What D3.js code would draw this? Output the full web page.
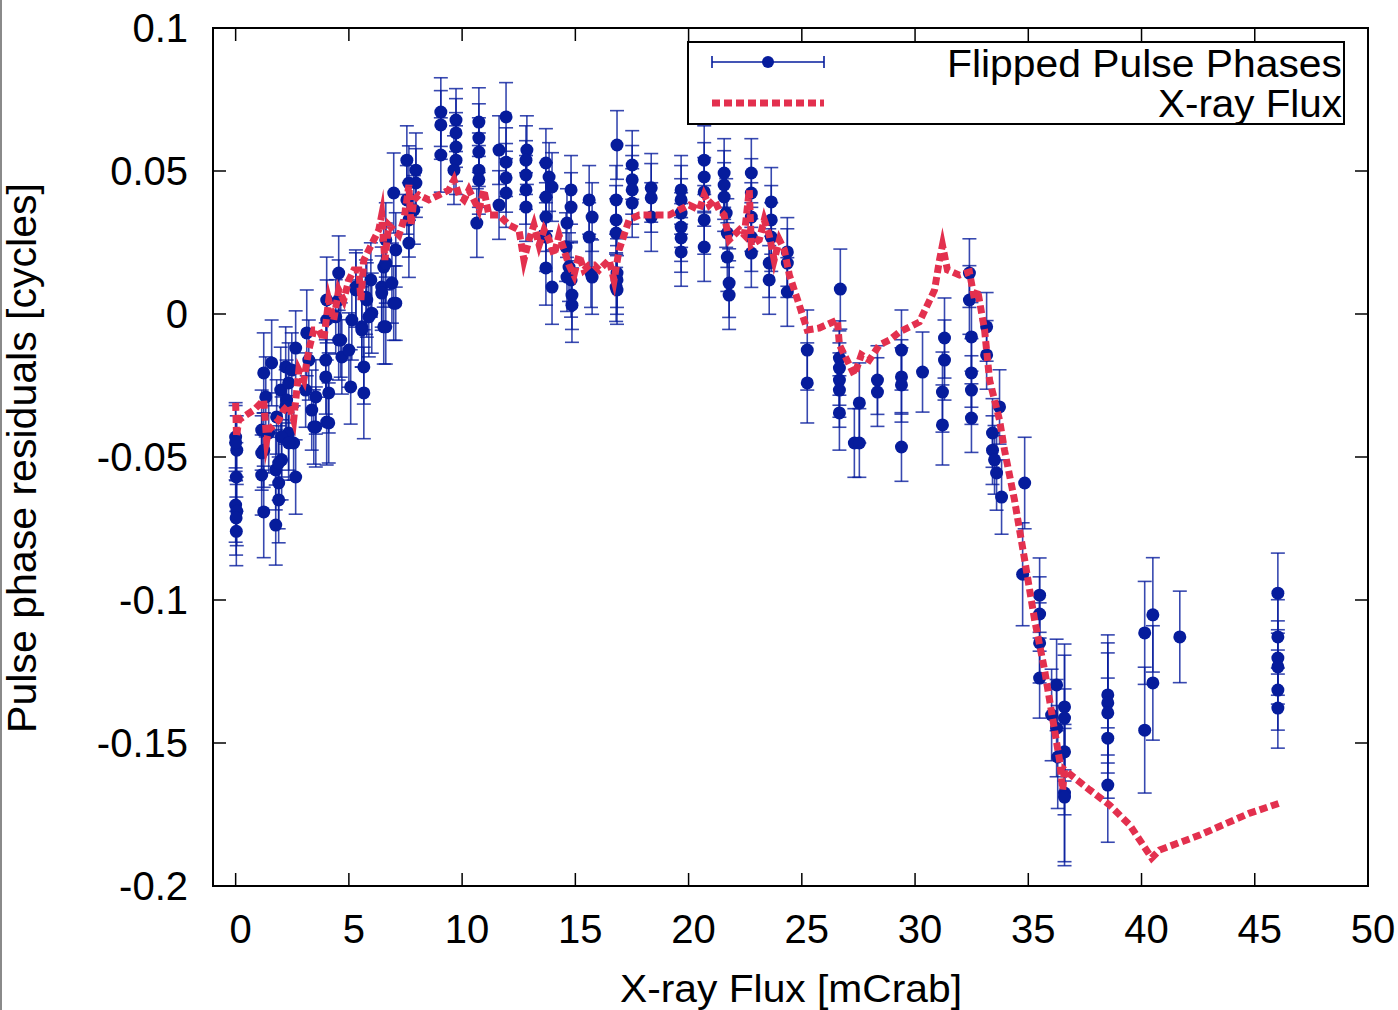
<!DOCTYPE html>
<html>
<head>
<meta charset="utf-8">
<script src="https://cdn.jsdelivr.net/npm/d3@7"></script>
<style>
  body { margin: 0; background: #fff; }
  svg { display: block; font-family: "Liberation Sans", Arial, sans-serif; }
</style>
</head>
<body>
<svg id="canvas" width="1398" height="1010"></svg>
<script>
// tick values
let xTicks = [0, 5, 10, 15, 20, 25, 30, 35, 40, 45, 50]
let yTicks = [0.1, 0.05, 0, -0.05, -0.1, -0.15, -0.2]
let yTickLabels = ['0.1', '0.05', '0', '-0.05', '-0.1', '-0.15', '-0.2']

// flipped pulse phases: [flux mCrab, residual cycles, error]
let pulsePhases = [
  [0.0, -0.043, 0.012], [0.05, -0.0476, 0.012], [0.0, -0.045, 0.013], [0.03, -0.057, 0.012],
  [0.0, -0.0668, 0.013], [0.05, -0.069, 0.012], [0.02, -0.0713, 0.013], [0.03, -0.076, 0.012],
  [1.24, -0.0206, 0.014], [1.59, -0.0171, 0.015], [1.33, -0.029, 0.014], [1.24, -0.0476, 0.013],
  [1.15, -0.0563, 0.014], [1.24, -0.0692, 0.016], [1.77, -0.0738, 0.014], [1.90, -0.065, 0.015],
  [2.21, -0.0185, 0.014], [2.65, -0.0119, 0.013], [2.65, -0.057, 0.013], [2.34, -0.0416, 0.013],
  [2.03, -0.051, 0.014], [1.81, -0.036, 0.013], [1.46, -0.0416, 0.014], [1.99, -0.0266, 0.015],
  [2.25, -0.0301, 0.014], [1.90, -0.0591, 0.016], [2.56, -0.0451, 0.013], [3.14, -0.0066, 0.015],
  [3.23, -0.0161, 0.014], [3.09, -0.0266, 0.013], [3.36, -0.0336, 0.014], [3.45, -0.0395, 0.013],
  [4.02, 0.0049, 0.015], [4.02, -0.0021, 0.014], [3.98, -0.0161, 0.013], [4.11, -0.0276, 0.014],
  [4.02, -0.0378, 0.015], [4.55, 0.0143, 0.013], [4.55, 0.0049, 0.014], [4.64, -0.0091, 0.013],
  [4.69, -0.015, 0.013], [5.08, -0.0255, 0.013], [5.13, -0.0021, 0.014], [5.31, 0.0084, 0.013],
  [5.57, -0.0045, 0.014], [5.66, -0.0185, 0.013], [5.66, -0.0276, 0.016], [5.79, 0.0049, 0.013],
  [6.01, 0.0003, 0.014], [5.97, 0.0119, 0.013], [6.54, -0.0045, 0.013], [6.45, 0.0094, 0.014],
  [6.54, 0.0164, 0.014], [6.98, 0.0423, 0.014], [7.07, 0.0224, 0.013], [7.07, 0.0038, 0.013],
  [6.63, 0.0259, 0.013], [6.90, 0.0108, 0.014], [7.56, 0.0538, 0.012], [7.65, 0.0458, 0.013],
  [7.56, 0.0399, 0.012], [7.65, 0.0329, 0.013], [7.65, 0.0248, 0.012], [7.96, 0.0503, 0.013],
  [7.87, 0.0364, 0.012], [6.63, -0.0045, 0.013], [6.98, 0.0038, 0.013], [7.96, 0.0458, 0.012],
  [1.15, -0.0406, 0.014], [1.15, -0.0486, 0.013], [1.77, -0.0545, 0.014], [1.90, -0.0521, 0.013],
  [2.03, -0.043, 0.014], [2.21, -0.0325, 0.013], [2.34, -0.0241, 0.014], [2.48, -0.0196, 0.013],
  [2.34, -0.0451, 0.013], [3.54, -0.0395, 0.014], [3.54, -0.029, 0.013], [4.11, -0.0381, 0.014],
  [3.98, -0.022, 0.013], [4.42, -0.001, 0.013], [4.55, -0.0091, 0.014], [5.0, -0.0126, 0.013],
  [5.57, -0.0056, 0.013], [5.88, -0.001, 0.014], [5.75, 0.0059, 0.013], [5.31, 0.0094, 0.013],
  [6.45, 0.0073, 0.013], [6.63, 0.0178, 0.014],
  [9.06, 0.0706, 0.012], [9.06, 0.0661, 0.012], [9.06, 0.0556, 0.013], [9.73, 0.0678, 0.011],
  [9.73, 0.0633, 0.012], [9.73, 0.0584, 0.012], [9.73, 0.0538, 0.012], [9.64, 0.0503, 0.012],
  [10.74, 0.0671, 0.012], [10.74, 0.0615, 0.012], [10.74, 0.0566, 0.012], [10.74, 0.0503, 0.013],
  [10.74, 0.0469, 0.012], [10.65, 0.0318, 0.012], [11.94, 0.0689, 0.012], [11.63, 0.0573, 0.012],
  [11.94, 0.0531, 0.012], [11.94, 0.0476, 0.012], [11.94, 0.0423, 0.012], [11.63, 0.0381, 0.012],
  [12.86, 0.0573, 0.012], [12.82, 0.0538, 0.012], [12.82, 0.0486, 0.012], [12.82, 0.0434, 0.012],
  [12.82, 0.0374, 0.012], [13.70, 0.0528, 0.012], [13.84, 0.0479, 0.012], [13.97, 0.0444, 0.012],
  [13.70, 0.0409, 0.012], [13.70, 0.0339, 0.012], [13.70, 0.0269, 0.012], [13.70, 0.0161, 0.013],
  [13.97, 0.0094, 0.013], [14.81, 0.0434, 0.012], [14.81, 0.0374, 0.012], [14.63, 0.0318, 0.012],
  [14.59, 0.0234, 0.012], [14.72, 0.0164, 0.012], [14.81, 0.0119, 0.013], [14.85, 0.0066, 0.012],
  [14.63, 0.0129, 0.012], [15.69, 0.0143, 0.012], [16.80, 0.0094, 0.012], [14.85, 0.0031, 0.013],
  [15.61, 0.0399, 0.012], [15.74, 0.0339, 0.012], [15.61, 0.0269, 0.012], [15.74, 0.0129, 0.013],
  [16.84, 0.0591, 0.012], [16.80, 0.0399, 0.012], [16.80, 0.0329, 0.012], [16.80, 0.0283, 0.012],
  [16.84, 0.0119, 0.012], [16.84, 0.0143, 0.012], [16.84, 0.0084, 0.012], [17.51, 0.0521, 0.012],
  [17.51, 0.0469, 0.012], [17.51, 0.0434, 0.012], [17.51, 0.0388, 0.012], [18.35, 0.0441, 0.012],
  [18.35, 0.0339, 0.012], [18.35, 0.0406, 0.012],
  [19.67, 0.0434, 0.012], [19.67, 0.0399, 0.012], [19.67, 0.0353, 0.012], [19.67, 0.0304, 0.012],
  [19.67, 0.0266, 0.012], [19.67, 0.0217, 0.012], [20.69, 0.0538, 0.012], [20.69, 0.0479, 0.012],
  [20.69, 0.0427, 0.012], [20.69, 0.0329, 0.012], [20.69, 0.0234, 0.012], [21.57, 0.0493, 0.012],
  [21.57, 0.0451, 0.012], [21.57, 0.0409, 0.012], [21.66, 0.0353, 0.012], [21.71, 0.0283, 0.012],
  [21.71, 0.0199, 0.012], [21.79, 0.0108, 0.012], [21.79, 0.0066, 0.012], [22.77, 0.0493, 0.012],
  [22.77, 0.0423, 0.012], [22.77, 0.0339, 0.012], [22.77, 0.0269, 0.012], [22.77, 0.0213, 0.012],
  [23.65, 0.0392, 0.012], [23.65, 0.0329, 0.012], [23.65, 0.0269, 0.012], [23.56, 0.0178, 0.012],
  [23.56, 0.0119, 0.012], [24.36, 0.0217, 0.012], [24.36, 0.0178, 0.012], [24.36, 0.0077, 0.012],
  [25.24, -0.0126, 0.014], [25.24, -0.0241, 0.014], [26.70, 0.0087, 0.014], [26.66, -0.0154, 0.013],
  [26.66, -0.0189, 0.013], [26.66, -0.0231, 0.013], [26.66, -0.0266, 0.013], [26.66, -0.0346, 0.013],
  [27.54, -0.0311, 0.014], [27.32, -0.0451, 0.012], [27.54, -0.0451, 0.012], [28.34, -0.0231, 0.012],
  [28.34, -0.0273, 0.012], [29.40, -0.0126, 0.014], [29.40, -0.022, 0.013], [29.40, -0.0248, 0.013],
  [29.40, -0.0465, 0.012], [30.33, -0.0203, 0.014], [31.30, -0.0084, 0.014], [31.30, -0.0161, 0.014],
  [31.21, -0.0273, 0.014], [31.21, -0.0388, 0.014], [32.40, 0.0143, 0.012], [32.40, 0.0049, 0.012],
  [32.49, -0.008, 0.012], [32.49, -0.0206, 0.012], [32.49, -0.0266, 0.012], [32.49, -0.0364, 0.012],
  [33.16, -0.0045, 0.012], [33.16, -0.0143, 0.012], [33.73, -0.0325, 0.013], [33.42, -0.0416, 0.012],
  [33.42, -0.0476, 0.012], [33.51, -0.051, 0.012], [33.60, -0.0556, 0.013], [33.82, -0.064, 0.013],
  [34.84, -0.0591, 0.016],
  [34.75, -0.091, 0.018], [35.50, -0.0983, 0.013], [35.50, -0.1049, 0.013], [35.50, -0.115, 0.014],
  [35.50, -0.1273, 0.014], [36.25, -0.1297, 0.016], [36.03, -0.1402, 0.016], [36.25, -0.1448, 0.017],
  [36.60, -0.1374, 0.022], [36.60, -0.1413, 0.022], [36.60, -0.1531, 0.022], [36.30, -0.1549, 0.018],
  [36.60, -0.1675, 0.024], [36.60, -0.1689, 0.024], [38.51, -0.1332, 0.021], [38.51, -0.136, 0.021],
  [38.51, -0.1395, 0.021], [38.51, -0.1483, 0.021], [38.51, -0.1647, 0.02], [40.14, -0.1115, 0.018],
  [40.14, -0.1455, 0.022], [40.50, -0.1052, 0.02], [40.50, -0.129, 0.02], [41.69, -0.1129, 0.016],
  [46.02, -0.0976, 0.014], [46.02, -0.1129, 0.013], [46.02, -0.1203, 0.013], [46.02, -0.1234, 0.013],
  [46.02, -0.1315, 0.014], [46.02, -0.1378, 0.014]
]

// x-ray flux curve (scaled): [flux mCrab, value]
let xrayFlux = [
  [0.0, -0.0311], [0.04, -0.043], [0.13, -0.0371], [0.80, -0.0336], [1.24, -0.0301], [1.37, -0.0441],
  [1.46, -0.0406], [1.90, -0.0371], [2.12, -0.0336], [2.34, -0.0318], [2.56, -0.0371], [2.70, -0.0266],
  [2.79, -0.0196], [3.01, -0.0231], [3.23, -0.0126], [3.45, -0.0056], [3.67, -0.0056], [3.89, -0.0091],
  [4.11, 0.0049], [4.33, -0.0021], [4.55, 0.0084], [4.77, 0.0049], [5.0, 0.0119], [5.22, 0.0154],
  [5.44, 0.0154], [5.53, 0.0049], [5.66, 0.0189], [5.88, 0.0224], [6.10, 0.0259], [6.32, 0.0294],
  [6.45, 0.0346], [6.59, 0.0189], [6.76, 0.0311], [6.98, 0.0294], [7.21, 0.0276], [7.43, 0.0329],
  [7.56, 0.0399], [7.65, 0.0451], [7.74, 0.0311], [7.87, 0.0399], [8.09, 0.0416], [8.53, 0.0399],
  [8.97, 0.0416], [9.42, 0.0434], [9.64, 0.0469], [9.86, 0.0416], [10.08, 0.0399], [10.30, 0.0434],
  [10.74, 0.0364], [10.96, 0.0434], [11.18, 0.0346], [11.63, 0.0346], [12.07, 0.0311], [12.51, 0.0294],
  [12.73, 0.0189], [12.95, 0.0259], [13.17, 0.0311], [13.40, 0.0241], [13.62, 0.0294], [13.84, 0.0259],
  [14.06, 0.0206], [14.28, 0.0276], [14.50, 0.0224], [14.72, 0.0171], [14.94, 0.0136], [15.16, 0.0206],
  [15.38, 0.0154], [15.61, 0.0171], [15.83, 0.0171], [16.05, 0.0154], [16.49, 0.0189], [16.71, 0.0119],
  [16.93, 0.0224], [17.15, 0.0276], [17.37, 0.0329], [17.82, 0.0346], [18.26, 0.0346], [18.70, 0.0346],
  [19.14, 0.0346], [19.58, 0.0364], [20.03, 0.0381], [20.47, 0.0364], [20.69, 0.0416], [20.91, 0.0381],
  [21.13, 0.0399], [21.35, 0.0364], [21.57, 0.0346], [21.79, 0.0259], [22.24, 0.0294], [22.46, 0.0276],
  [22.68, 0.0434], [22.77, 0.0241], [23.12, 0.0259], [23.34, 0.0329], [23.56, 0.0276], [23.78, 0.0189],
  [24.01, 0.0259], [24.23, 0.0224], [24.45, 0.0136], [24.89, 0.0031], [25.24, -0.0056], [25.77, -0.0049],
  [26.57, -0.0021], [26.66, -0.0108], [27.32, -0.0213], [27.63, -0.0143], [27.98, -0.0161], [28.43, -0.0108],
  [28.87, -0.0091], [29.31, -0.0063], [30.19, -0.0028], [30.86, 0.0084], [31.08, 0.0189], [31.21, 0.0241],
  [31.43, 0.0154], [31.96, 0.0136], [32.40, 0.0147], [32.63, 0.0049], [32.76, 0.0084], [33.07, -0.0056],
  [33.29, -0.0231], [33.51, -0.0301], [33.73, -0.0371], [33.95, -0.0476], [34.39, -0.065], [34.84, -0.086],
  [35.28, -0.107], [35.72, -0.1245], [36.16, -0.1455], [36.38, -0.156], [36.52, -0.1664], [36.60, -0.1594],
  [37.71, -0.1664], [38.59, -0.1717], [39.48, -0.1787], [40.45, -0.1902], [40.80, -0.1874], [42.57, -0.1822],
  [44.78, -0.1745], [46.11, -0.171]
]

let blue = '#061c9c'
let red = '#e3304e'

let plotLeft = 213, plotRight = 1368, plotTop = 28, plotBottom = 886

let svg = d3.select('#canvas')

let xScale = d3.scaleLinear().domain([-1, 50]).range([plotLeft, plotRight])
let yScale = d3.scaleLinear().domain([-0.2, 0.1]).range([plotBottom, plotTop])

// thin grey border line at far left
svg.append('line')
   .attr('x1', 1).attr('x2', 1).attr('y1', 0).attr('y2', 1010)
   .attr('stroke', '#8a8a8a').attr('stroke-width', 2)

// ticks (inside, mirrored on all four sides)
let tickLen = 13
let tickGroup = svg.append('g').attr('stroke', '#000').attr('stroke-width', 1.5)
xTicks.forEach((t) => {
    let x = xScale(t)
    tickGroup.append('line').attr('x1', x).attr('x2', x).attr('y1', plotBottom).attr('y2', plotBottom - tickLen)
    tickGroup.append('line').attr('x1', x).attr('x2', x).attr('y1', plotTop).attr('y2', plotTop + tickLen)
})
yTicks.forEach((t) => {
    let y = yScale(t)
    tickGroup.append('line').attr('x1', plotLeft).attr('x2', plotLeft + tickLen).attr('y1', y).attr('y2', y)
    tickGroup.append('line').attr('x1', plotRight).attr('x2', plotRight - tickLen).attr('y1', y).attr('y2', y)
})

// tick labels
svg.selectAll('.xlabel')
   .data(xTicks)
   .enter()
   .append('text')
   .attr('class', 'xlabel')
   .attr('x', (d) => xScale(d) + 5)
   .attr('y', 943)
   .attr('text-anchor', 'middle')
   .attr('font-size', 40)
   .text((d) => d)

svg.selectAll('.ylabel')
   .data(yTicks)
   .enter()
   .append('text')
   .attr('class', 'ylabel')
   .attr('x', 188)
   .attr('y', (d) => yScale(d) + 14)
   .attr('text-anchor', 'end')
   .attr('font-size', 40)
   .text((d, i) => yTickLabels[i])

// axis titles
svg.append('text')
   .attr('x', 791).attr('y', 1002)
   .attr('text-anchor', 'middle')
   .attr('font-size', 38)
   .attr('textLength', 342).attr('lengthAdjust', 'spacingAndGlyphs')
   .text('X-ray Flux [mCrab]')

svg.append('text')
   .attr('transform', 'translate(36, 458) rotate(-90)')
   .attr('text-anchor', 'middle')
   .attr('font-size', 40)
   .attr('textLength', 550).attr('lengthAdjust', 'spacingAndGlyphs')
   .text('Pulse phase residuals [cycles]')

// error bars
let capHalf = 7
let bars = svg.append('g')
              .attr('stroke', blue)
              .attr('stroke-width', 1.6)
              .attr('stroke-opacity', 0.8)
pulsePhases.forEach((p) => {
    let x = xScale(p[0])
    let y0 = yScale(p[1] - p[2])
    let y1 = yScale(p[1] + p[2])
    bars.append('line').attr('x1', x).attr('x2', x).attr('y1', y0).attr('y2', y1)
    bars.append('line').attr('x1', x - capHalf).attr('x2', x + capHalf).attr('y1', y0).attr('y2', y0)
    bars.append('line').attr('x1', x - capHalf).attr('x2', x + capHalf).attr('y1', y1).attr('y2', y1)
})

// points
svg.append('g')
   .selectAll('circle')
   .data(pulsePhases)
   .enter()
   .append('circle')
   .attr('cx', (d) => xScale(d[0]))
   .attr('cy', (d) => yScale(d[1]))
   .attr('r', 6.5)
   .attr('fill', blue)

// x-ray flux line
let line = d3.line()
             .x((d) => xScale(d[0]))
             .y((d) => yScale(d[1]))

svg.append('path')
   .datum(xrayFlux)
   .attr('d', line)
   .attr('fill', 'none')
   .attr('stroke', red)
   .attr('stroke-width', 7)
   .attr('stroke-dasharray', '8,4')
   .attr('stroke-linejoin', 'miter')
   .attr('stroke-miterlimit', 8)

// frame
svg.append('rect')
   .attr('x', plotLeft).attr('y', plotTop)
   .attr('width', plotRight - plotLeft).attr('height', plotBottom - plotTop)
   .attr('fill', 'none')
   .attr('stroke', '#000')
   .attr('stroke-width', 2)

// legend
let legend = svg.append('g')
legend.append('rect')
      .attr('x', 688).attr('y', 42)
      .attr('width', 656).attr('height', 82)
      .attr('fill', '#fff')
      .attr('stroke', '#000')
      .attr('stroke-width', 2)

legend.append('line').attr('x1', 712).attr('x2', 824).attr('y1', 62).attr('y2', 62)
      .attr('stroke', blue).attr('stroke-width', 1.6)
legend.append('line').attr('x1', 712).attr('x2', 712).attr('y1', 56).attr('y2', 68)
      .attr('stroke', blue).attr('stroke-width', 1.6)
legend.append('line').attr('x1', 824).attr('x2', 824).attr('y1', 56).attr('y2', 68)
      .attr('stroke', blue).attr('stroke-width', 1.6)
legend.append('circle').attr('cx', 768).attr('cy', 62).attr('r', 6).attr('fill', blue)

legend.append('line').attr('x1', 712).attr('x2', 824).attr('y1', 103).attr('y2', 103)
      .attr('stroke', red).attr('stroke-width', 7).attr('stroke-dasharray', '8,4')

legend.append('text')
      .attr('x', 1342).attr('y', 77)
      .attr('text-anchor', 'end')
      .attr('font-size', 38)
      .attr('textLength', 395).attr('lengthAdjust', 'spacingAndGlyphs')
      .text('Flipped Pulse Phases')

legend.append('text')
      .attr('x', 1342).attr('y', 117)
      .attr('text-anchor', 'end')
      .attr('font-size', 38)
      .attr('textLength', 184).attr('lengthAdjust', 'spacingAndGlyphs')
      .text('X-ray Flux')
</script>
</body>
</html>
